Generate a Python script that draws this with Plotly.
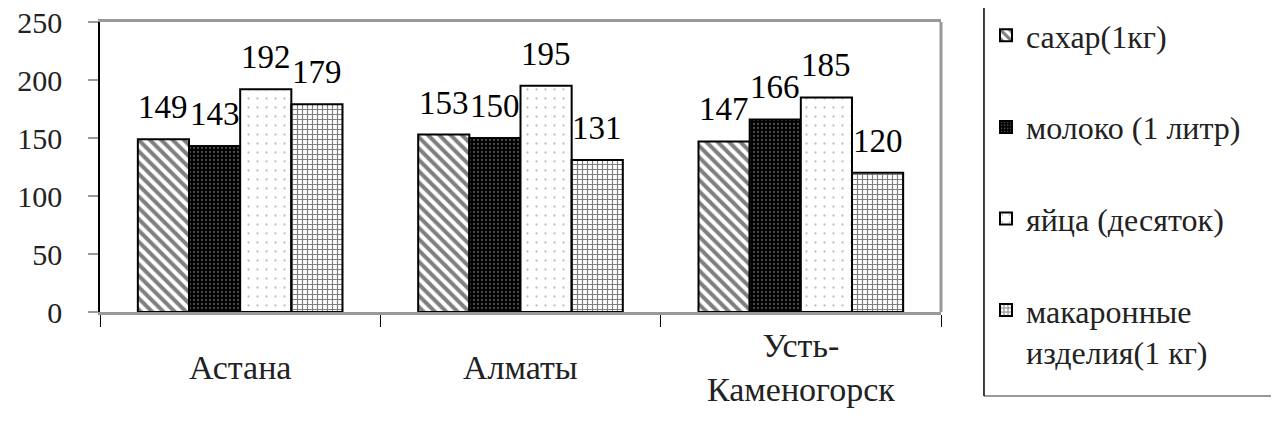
import plotly.graph_objects as go

categories = ["Астана", "Алматы", "Усть-<br>Каменогорск"]
series_names = ["сахар(1кг)", "молоко (1 литр)", "яйца (десяток)", "макаронные<br>изделия(1 кг)"]
sugar = [149, 153, 147]
milk = [143, 150, 166]
eggs = [192, 195, 185]
pasta = [179, 131, 120]
y_ticks = [0, 50, 100, 150, 200, 250]

series_values = [sugar, milk, eggs, pasta]
patterns = [
    dict(shape="\\", fgcolor="black", bgcolor="white", size=8, solidity=0.5),
    dict(shape=".", fgcolor="#9a9a9a", bgcolor="black", size=4, solidity=0.25),
    dict(shape=".", fgcolor="#808080", bgcolor="white", size=9, solidity=0.05),
    dict(shape="+", fgcolor="black", bgcolor="white", size=5, solidity=0.42),
]

FONT = "Liberation Serif"
BARGAP = 0.27
x_idx = list(range(len(categories)))

fig = go.Figure()
for i, (name, vals, pat) in enumerate(zip(series_names, series_values, patterns)):
    fig.add_trace(go.Bar(
        x=x_idx, y=vals, name=name, legendgroup=f"g{i}",
        marker=dict(color="white", pattern=pat, line=dict(color="black", width=2)),
    ))

n = len(series_names)
bw = (1 - BARGAP) / n
annotations = []
for i, vals in enumerate(series_values):
    off = (i - (n - 1) / 2) * bw
    for j, v in enumerate(vals):
        annotations.append(dict(
            x=j + off, y=v, xref="x", yref="y", text=str(v), showarrow=False,
            yanchor="bottom", yshift=12, font=dict(family=FONT, size=33, color="black"),
        ))
for j, c in enumerate(categories):
    annotations.append(dict(
        x=j, y=-0.19, xref="x", yref="paper", text=c, showarrow=False,
        yanchor="middle", font=dict(family=FONT, size=34, color="#222"),
    ))

# legend frame (left black, bottom/right gray)
LX0, LX1, LY0, LY1 = 1.0511, 1.3995, -0.2897, 1.2
shapes = [
    dict(type="line", xref="paper", yref="paper", x0=1, x1=1, y0=0, y1=1,
         line=dict(color="#999", width=3)),
    dict(type="line", xref="paper", yref="paper", x0=LX0, x1=LX1, y0=LY0, y1=LY0,
         line=dict(color="#999", width=2)),
    dict(type="line", xref="paper", yref="paper", x0=LX1, x1=LX1, y0=LY0, y1=LY1,
         line=dict(color="#aaa", width=2)),
    dict(type="line", xref="paper", yref="paper", x0=LX0, x1=LX0, y0=LY0, y1=LY1,
         line=dict(color="black", width=1.5)),
]

fig.update_layout(
    width=1271, height=421,
    margin=dict(l=92, r=338, t=14, b=117, autoexpand=False),
    paper_bgcolor="white", plot_bgcolor="white",
    barmode="group", bargap=BARGAP, bargroupgap=0,
    font=dict(family=FONT, size=32, color="#222"),
    annotations=annotations,
    shapes=shapes,
    showlegend=True,
    legend=dict(
        x=978 / 1271, xref="container", xanchor="left",
        y=1.033, yref="container", yanchor="top",
        maxheight=600,
        borderwidth=0, bgcolor="rgba(0,0,0,0)",
        font=dict(family=FONT, size=32, color="#222"),
        tracegroupgap=47, valign="top", itemwidth=30,
        traceorder="grouped",
    ),
    xaxis=dict(
        type="linear", range=[-0.5, 2.5],
        tickmode="array", tickvals=[-0.5, 0.5, 1.5, 2.5], ticktext=["", "", "", ""],
        ticks="outside", ticklen=12, tickcolor="black", tickwidth=1,
        showline=True, linecolor="#999", linewidth=3, mirror=True,
        showgrid=False, zeroline=False,
    ),
    yaxis=dict(
        range=[0, 250], tickvals=y_ticks,
        ticks="outside", ticklen=10, tickcolor="#999", tickwidth=2,
        ticklabelstandoff=20, ticklabeloverflow="allow",
        showline=True, linecolor="black", linewidth=1.5,
        showgrid=False, zeroline=False,
        tickfont=dict(family=FONT, size=30, color="#222"),
    ),
)

fig.write_html("out.html")
